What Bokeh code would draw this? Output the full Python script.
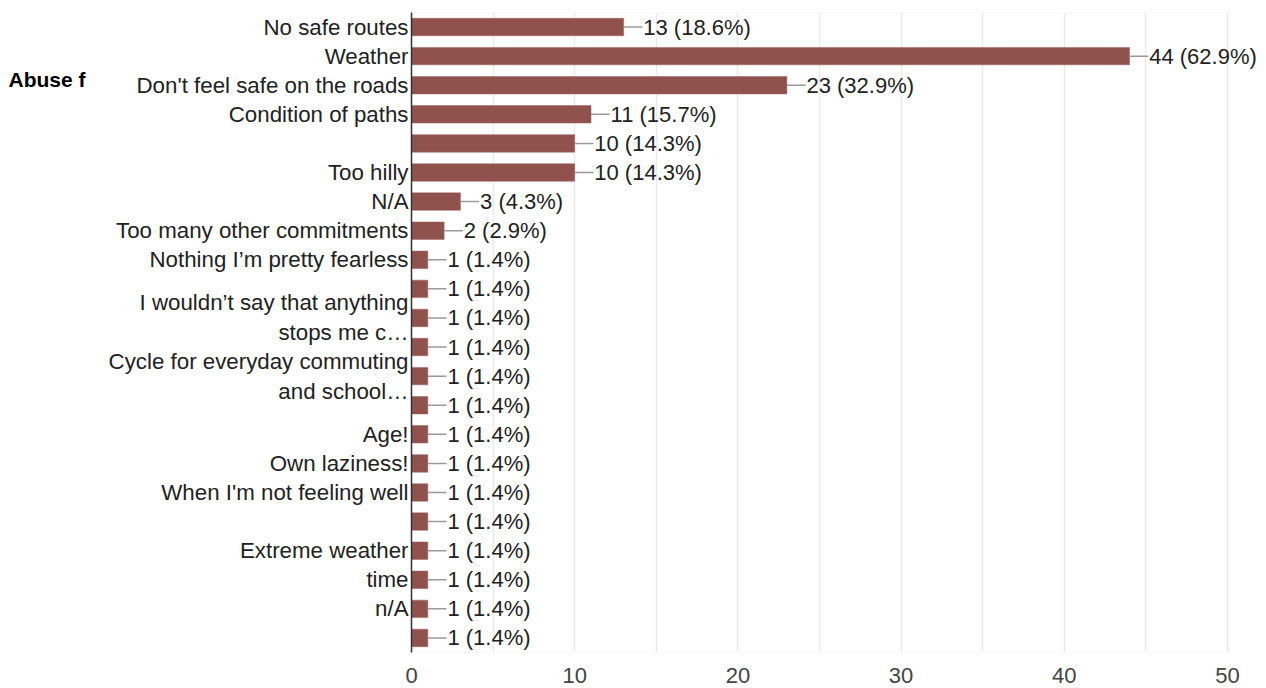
from bokeh.plotting import figure
from bokeh.models import ColumnDataSource, FixedTicker, Range1d, LabelSet, BoxAnnotation, LinearAxis
from bokeh.core.properties import value
from bokeh.embed import file_html
from bokeh.resources import INLINE

labels = ["No safe routes", "Weather", "Don't feel safe on the roads", "Condition of paths", "",
          "Too hilly", "N/A", "Too many other commitments", "Nothing I\u2019m pretty fearless", "",
          "I wouldn\u2019t say that anything\nstops me c\u2026", "", "Cycle for everyday commuting\nand school\u2026", "",
          "Age!", "Own laziness!", "When I'm not feeling well", "", "Extreme weather", "time", "n/A", ""]
counts = [13, 44, 23, 11, 10, 10, 3, 2, 1, 1, 1, 1, 1, 1, 1, 1, 1, 1, 1, 1, 1, 1]
percents = ["18.6%", "62.9%", "32.9%", "15.7%", "14.3%", "14.3%", "4.3%", "2.9%"] + ["1.4%"] * 14
x_ticks = [0, 10, 20, 30, 40, 50]
x_max = 50
side_note = "Abuse f"

n = len(counts)
idx = list(range(n))
src = ColumnDataSource(dict(
    y=idx, v=counts,
    v_end=[c + 1.15 for c in counts],
    lab_x=[c + 1.2 for c in counts],
    txt=[f"{c} ({pc})" for c, pc in zip(counts, percents)],
))

FONT = "Liberation Sans"
W, H = 1262, 688
LEFT = 411
px_per_unit = 816 / x_max
p = figure(width=W, height=H, output_backend="svg", toolbar_location=None,
           x_range=Range1d(0, (W - LEFT) / px_per_unit), y_range=Range1d(n - 0.5, -0.5),
           min_border_left=LEFT, min_border_right=0, min_border_top=12, min_border_bottom=36)

p.hbar(y="y", left=0, right="v", height=0.6, source=src, fill_color="#8f524d",
       line_color="#9c615c", line_width=0.5)
p.segment(x0="v", y0="y", x1="v_end", y1="y", source=src, line_color="#9a9a9a", line_width=1.5)
p.add_layout(LabelSet(x="lab_x", y="y", text="txt", source=src, text_font=value(FONT),
                      text_font_size="22px", text_color="#222222", text_baseline="middle"))

p.outline_line_color = None
p.add_layout(BoxAnnotation(left=0, right=x_max, fill_color=None, line_color="#e4e4e4",
                           line_width=1.5, level="underlay"))
p.xgrid.ticker = FixedTicker(ticks=list(range(0, x_max + 1, 5)))
p.xgrid.grid_line_color = "#ebebeb"
p.xgrid.grid_line_width = 1.5
p.ygrid.grid_line_color = None

p.xaxis.ticker = FixedTicker(ticks=x_ticks)
p.xaxis.axis_line_color = None
p.xaxis.major_tick_line_color = None
p.xaxis.minor_tick_line_color = None
p.xaxis.major_tick_out = 0
p.xaxis.major_tick_in = 0
p.xaxis.major_label_text_font = FONT
p.xaxis.major_label_text_font_size = "22px"
p.xaxis.major_label_text_color = "#444444"
p.xaxis.major_label_standoff = 15

p.yaxis.ticker = FixedTicker(ticks=idx)
p.yaxis.major_label_overrides = {i: l for i, l in enumerate(labels)}
p.yaxis.axis_line_color = "#333333"
p.yaxis.axis_line_width = 1.5
p.yaxis.major_tick_line_color = None
p.yaxis.minor_tick_line_color = None
p.yaxis.major_tick_out = 0
p.yaxis.major_tick_in = 0
p.yaxis.major_label_text_font = FONT
p.yaxis.major_label_text_font_size = "22.3px"
p.yaxis.major_label_text_color = "#222222"
p.yaxis.major_label_text_line_height = 1.2
p.yaxis.major_label_standoff = 3

note_axis = LinearAxis(ticker=FixedTicker(ticks=[1.8]), major_label_overrides={1.8: side_note},
                       axis_line_color=None, major_tick_line_color=None, minor_tick_line_color=None,
                       major_tick_out=0, major_tick_in=0, major_label_standoff=20,
                       major_label_text_font=FONT, major_label_text_font_size="21px",
                       major_label_text_font_style="bold", major_label_text_color="#000000")
p.add_layout(note_axis, "left")

open("out.html", "w").write(file_html(p, INLINE))
